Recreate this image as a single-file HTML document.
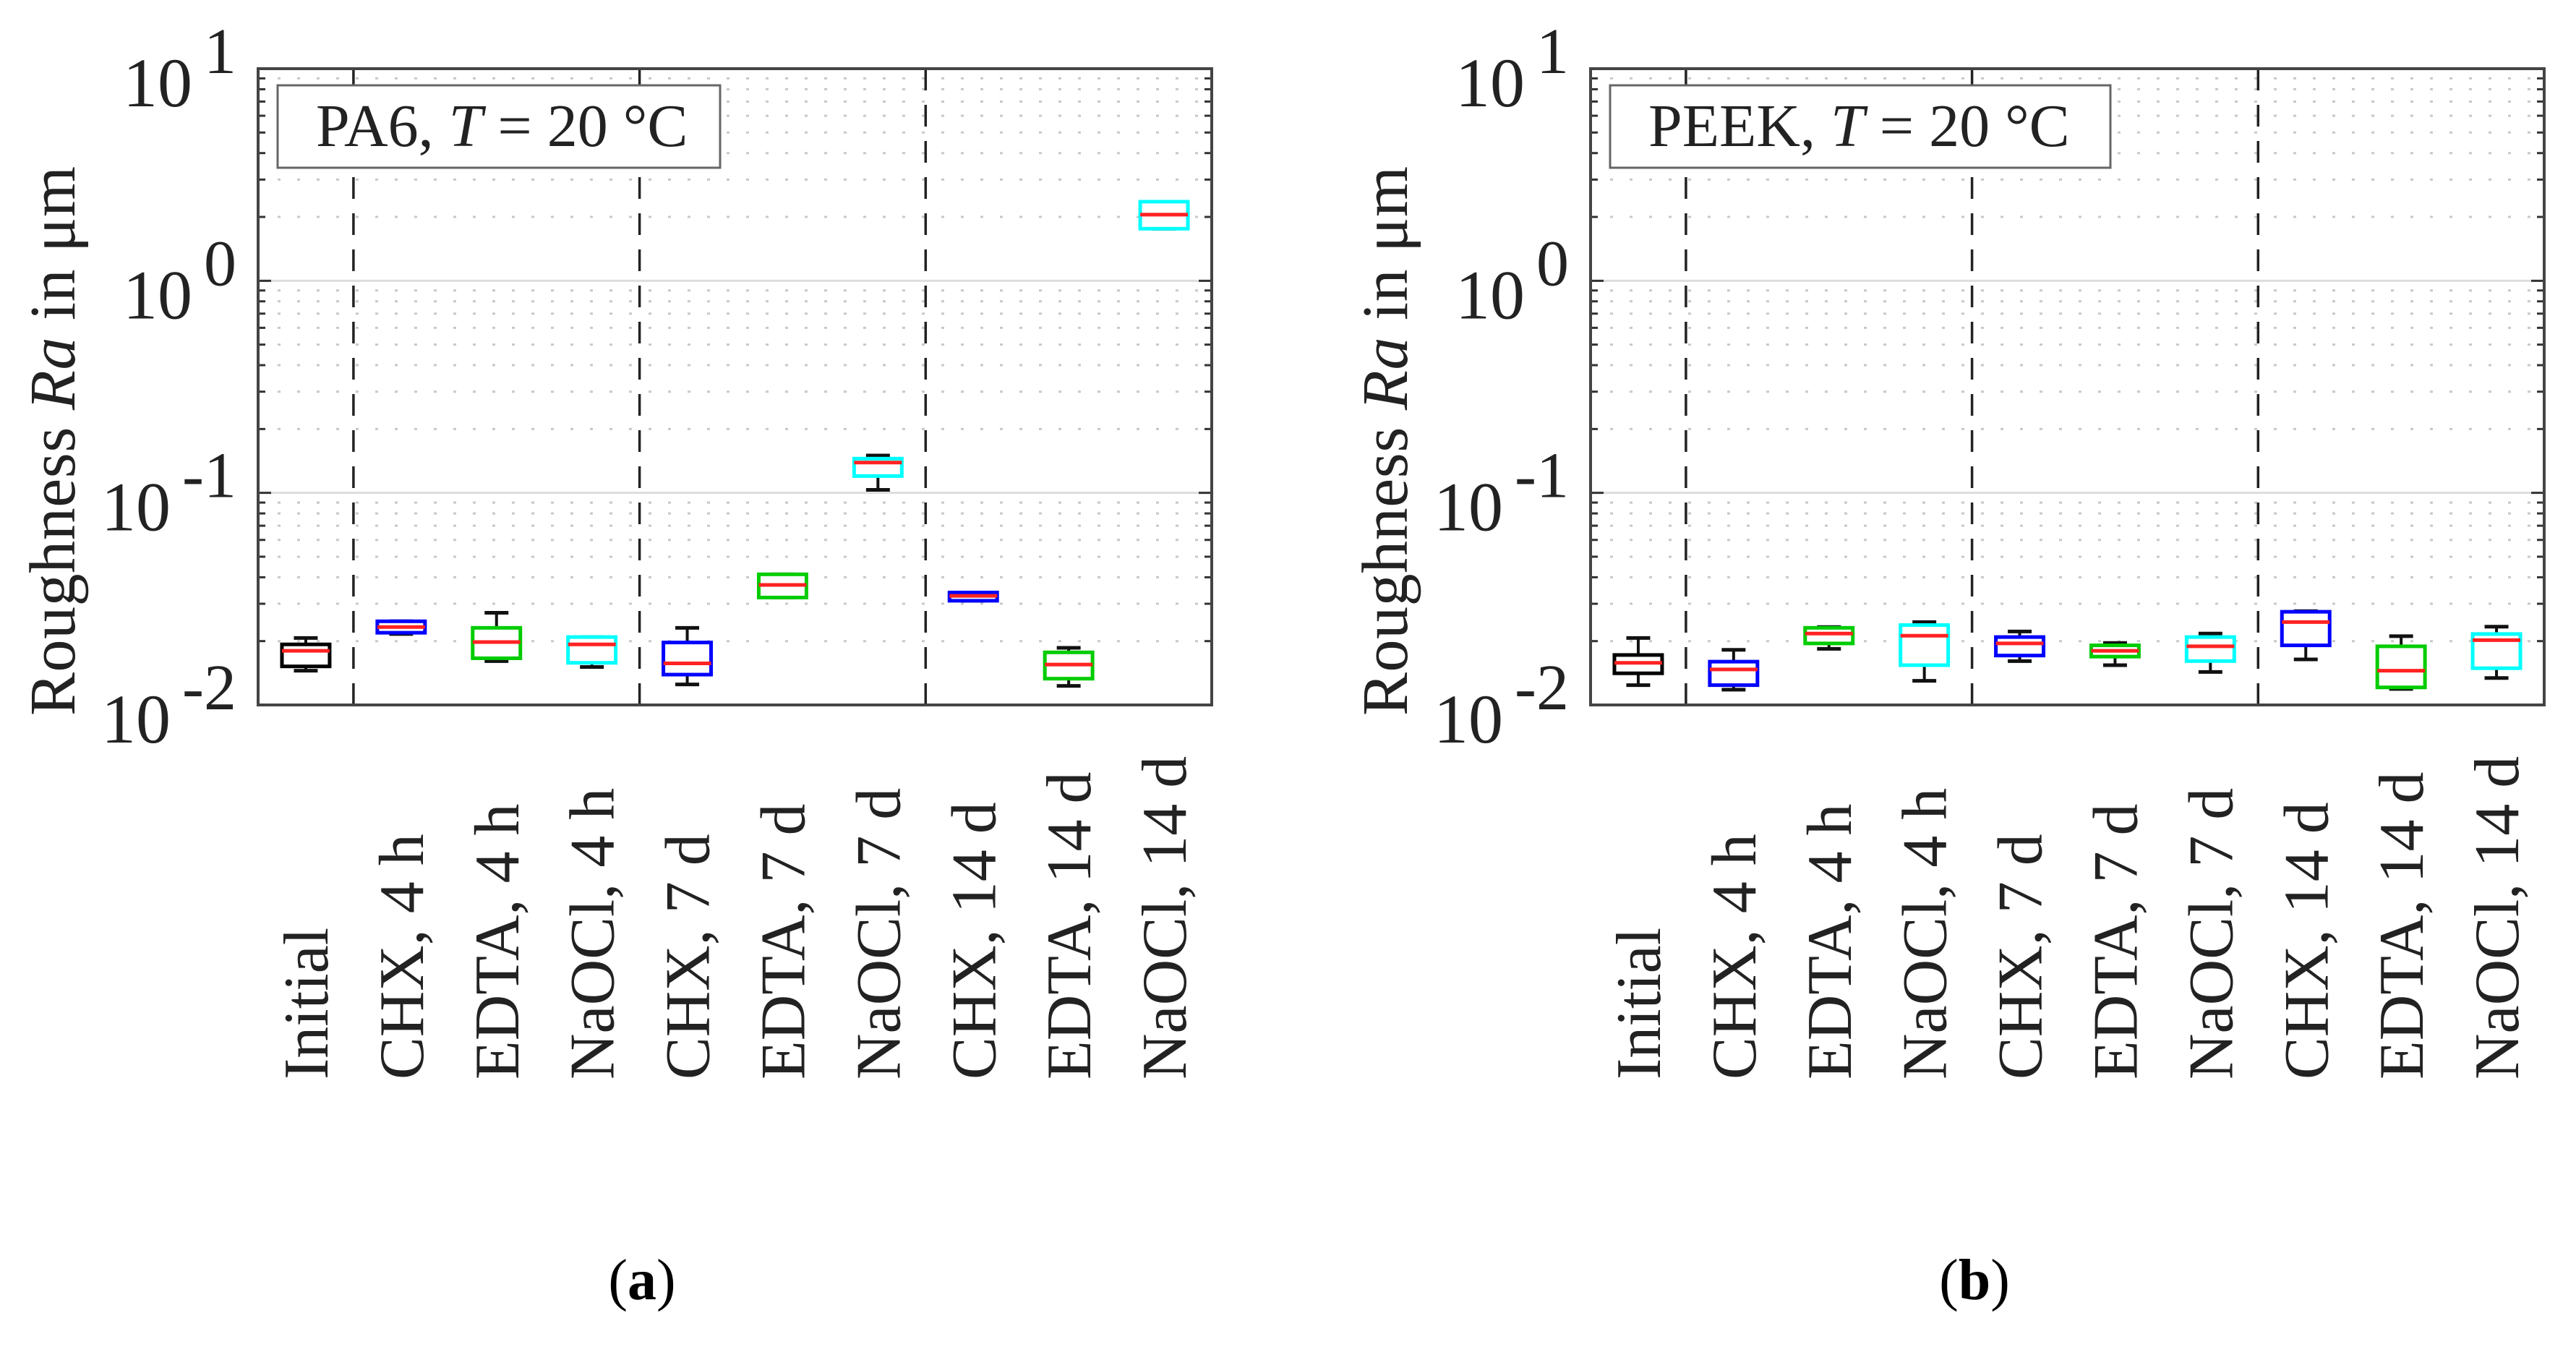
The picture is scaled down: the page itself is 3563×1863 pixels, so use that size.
<!DOCTYPE html>
<html><head><meta charset="utf-8"><style>
html,body{margin:0;padding:0;background:#fff;}
svg{display:block;}
text{font-family:"Liberation Serif",serif;fill:#222;}
</style></head><body>
<svg id="fig" width="3563" height="1863" viewBox="0 0 3563 1863" xmlns="http://www.w3.org/2000/svg">
<text x="888" y="1797" font-size="80" text-anchor="middle" style="fill:#000">(<tspan font-weight="bold">a</tspan>)</text>
<text x="2731" y="1797" font-size="80" text-anchor="middle" style="fill:#000">(<tspan font-weight="bold">b</tspan>)</text>
</svg>
<script>
const categories = ["Initial","CHX, 4 h","EDTA, 4 h","NaOCl, 4 h","CHX, 7 d","EDTA, 7 d","NaOCl, 7 d","CHX, 14 d","EDTA, 14 d","NaOCl, 14 d"];
const boxColors = ["#000","#00f","#0c0","#0ff","#00f","#0c0","#0ff","#00f","#0c0","#0ff"];
const yTickExps = [1,0,-1,-2];
// PA6 series
const pa6WhiskerHigh = [0.0207,0.0248,0.0272,0.0209,0.0231,0.0413,0.150,0.0339,0.0186,2.36];
const pa6Q3 = [0.0193,0.0248,0.0231,0.0209,0.0197,0.0413,0.145,0.0339,0.0177,2.36];
const pa6Median = [0.0180,0.0233,0.0198,0.0193,0.0157,0.0368,0.139,0.0327,0.0155,2.05];
const pa6Q1 = [0.0152,0.0219,0.0166,0.0158,0.0139,0.0321,0.120,0.0310,0.0133,1.76];
const pa6WhiskerLow = [0.0145,0.0216,0.0161,0.0151,0.0125,0.0321,0.1033,0.0310,0.0123,1.76];
// PEEK series
const peekWhiskerHigh = [0.0207,0.0182,0.0233,0.0246,0.0222,0.0196,0.0217,0.0277,0.0211,0.0234];
const peekQ3 = [0.0172,0.0160,0.0231,0.0238,0.0209,0.0191,0.0209,0.0275,0.0189,0.0216];
const peekMedian = [0.0158,0.0147,0.0217,0.0212,0.0195,0.0180,0.0189,0.0246,0.0145,0.0202];
const peekQ1 = [0.0141,0.0124,0.0195,0.0154,0.0171,0.0169,0.0161,0.0191,0.0121,0.0149];
const peekWhiskerLow = [0.0124,0.0118,0.0184,0.0130,0.0161,0.0154,0.0143,0.0164,0.0119,0.0134];

const NS="http://www.w3.org/2000/svg";
const svg=document.getElementById('fig');
function mk(tag,attrs,parent){const e=document.createElementNS(NS,tag);for(const k in attrs)e.setAttribute(k,attrs[k]);(parent||svg).appendChild(e);return e;}

function panel(x0,label,wh,q3,med,q1,wl,key){
  const x1=x0+1319, yT=95, yB=975;
  const g=mk('g',{});
  
  
  const cw=(x1-x0)/categories.length;
  const xs=i=>x0+cw*(i+0.5);
  const ys=v=>yB-(Math.log10(v)+2)*(yB-yT)/3;
  for(let d=-2;d<1;d++){
    for(let m=2;m<=9;m++){
      const y=ys(m*Math.pow(10,d));
      const l=mk('line',{x1:x0,x2:x1,y1:y,y2:y,stroke:'#c8c8c8','stroke-width':3,'stroke-dasharray':'4 23'},g);
      
      
      mk('line',{x1:x0,x2:x0+10,y1:y,y2:y,stroke:'#333','stroke-width':3},g);
      mk('line',{x1:x1-10,x2:x1,y1:y,y2:y,stroke:'#333','stroke-width':3},g);
    }
  }
  yTickExps.forEach(e=>{
    const y=ys(Math.pow(10,e));
    if(e>-2&&e<1){const l=mk('line',{x1:x0,x2:x1,y1:y,y2:y,stroke:'#ddd','stroke-width':3},g);
      
      }
    mk('line',{x1:x0,x2:x0+18,y1:y,y2:y,stroke:'#333','stroke-width':3},g);
    mk('line',{x1:x1-18,x2:x1,y1:y,y2:y,stroke:'#333','stroke-width':3},g);
    const t=mk('text',{x:x0-30,y:y+52,'font-size':96,'text-anchor':'end'},g);
    
    
    const a=mk('tspan',{},t);a.textContent='10';
    const b=mk('tspan',{dx:16,dy:-46,'font-size':90},t);b.textContent=String(e);
  });
  [1,4,7].forEach(k=>{
    const x=x0+cw*k;
    const l=mk('line',{x1:x,x2:x,y1:yT,y2:yB+18,stroke:'#222','stroke-width':3.5,'stroke-dasharray':'30 20'},g);
    
    
  });
  const f=mk('rect',{x:x0,y:yT,width:x1-x0,height:yB-yT,fill:'none',stroke:'#444','stroke-width':4},g);
  
  
  categories.forEach((c,i)=>{
    const cx=xs(i), bw=cw*0.5, cap=cw*0.25;
    const bg=mk('g',{},g);
    
    
    mk('line',{x1:cx,x2:cx,y1:ys(wh[i]),y2:ys(q3[i]),stroke:'#111','stroke-width':4},bg);
    mk('line',{x1:cx,x2:cx,y1:ys(q1[i]),y2:ys(wl[i]),stroke:'#111','stroke-width':4},bg);
    mk('line',{x1:cx-cap/2,x2:cx+cap/2,y1:ys(wh[i]),y2:ys(wh[i]),stroke:'#111','stroke-width':5},bg);
    mk('line',{x1:cx-cap/2,x2:cx+cap/2,y1:ys(wl[i]),y2:ys(wl[i]),stroke:'#111','stroke-width':5},bg);
    mk('rect',{x:cx-bw/2,y:ys(q3[i]),width:bw,height:Math.max(2,ys(q1[i])-ys(q3[i])),fill:'#fff',stroke:boxColors[i],'stroke-width':5},bg);
    mk('line',{x1:cx-bw/2,x2:cx+bw/2,y1:ys(med[i]),y2:ys(med[i]),stroke:'#f22','stroke-width':5},bg);
    const t=mk('text',{x:cx+30,y:1493,'font-size':88,transform:`rotate(-90 ${cx+30} 1493)`},g);
    
    
    t.textContent=c;
  });
  const lg=mk('g',{},g);
  
  
  const lw= key==='pa6'?612:692;
  mk('rect',{x:x0+27,y:118,width:lw,height:114,fill:'#fff',stroke:'#666','stroke-width':3},lg);
  const lt=mk('text',{x:x0+80,y:202,'font-size':84},lg);
  lt.innerHTML=label+', <tspan font-style="italic">T</tspan> = 20 °C';
  const yt=mk('text',{x:x0-254,y:990,'font-size':90,textLength:760,transform:`rotate(-90 ${x0-254} 990)`},g);
  
  
  yt.innerHTML='Roughness <tspan font-style="italic">Ra</tspan> in μm';
}
panel(357,'PA6',pa6WhiskerHigh,pa6Q3,pa6Median,pa6Q1,pa6WhiskerLow,'pa6');
panel(2200,'PEEK',peekWhiskerHigh,peekQ3,peekMedian,peekQ1,peekWhiskerLow,'peek');
</script>
</body></html>
